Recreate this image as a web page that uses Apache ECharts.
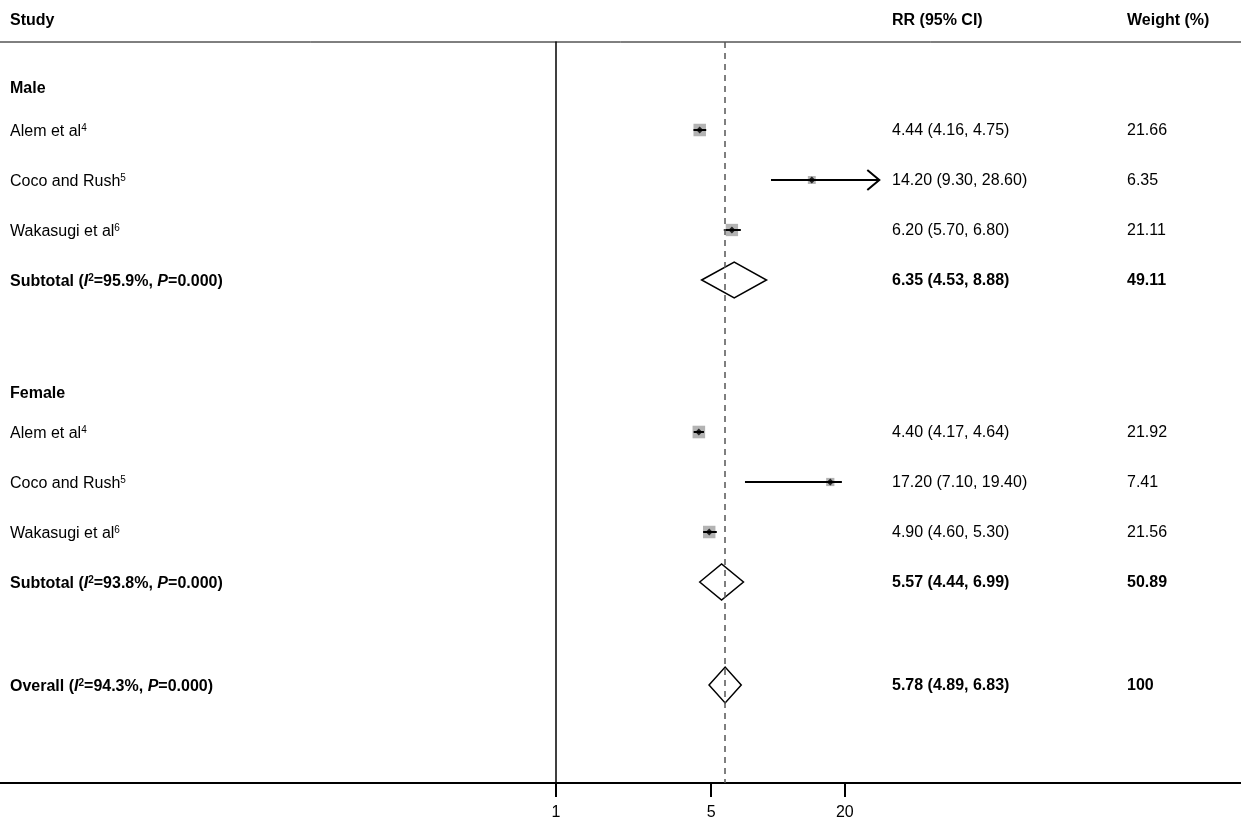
<!DOCTYPE html>
<html><head><meta charset="utf-8">
<script src="https://cdn.jsdelivr.net/npm/echarts@6/dist/echarts.min.js"></script>
<style>html,body{margin:0;background:#fff}#c{width:1241px;height:825px}</style>
</head><body><div id="c"></div>
<script>
// rows (row position in table units, top = 0)
const studies = ['Alem et al{s|4}', 'Coco and Rush{s|5}', 'Wakasugi et al{s|6}', 'Alem et al{s|4}', 'Coco and Rush{s|5}', 'Wakasugi et al{s|6}'];
const studyRows = [1.76, 2.76, 3.76, 7.8, 8.8, 9.8];
const rr = [4.44, 14.20, 6.20, 4.40, 17.20, 4.90];
const lo = [4.16, 9.30, 5.70, 4.17, 7.10, 4.60];
const hi = [4.75, 28.60, 6.80, 4.64, 19.40, 5.30];
const weights = [21.66, 6.35, 21.11, 21.92, 7.41, 21.56];
const ciText = ['4.44 (4.16, 4.75)', '14.20 (9.30, 28.60)', '6.20 (5.70, 6.80)', '4.40 (4.17, 4.64)', '17.20 (7.10, 19.40)', '4.90 (4.60, 5.30)'];
const arrowStudies = [false, true, false, false, false, false];

const pooledLabels = ['Subtotal (', 'Subtotal (', 'Overall ('];
const pooledI2 = ['95.9%', '93.8%', '94.3%'];
const pooledRows = [4.76, 10.8, 12.86];
const pooledRR = [6.35, 5.57, 5.78];
const pooledLo = [4.53, 4.44, 4.89];
const pooledHi = [8.88, 6.99, 6.83];
const pooledW = ['49.11', '50.89', '100'];

const groups = ['Male', 'Female'];
const groupRows = [0.92, 7.02];
const xTicks = [1, 5, 20];

const tableTop = 42, rowH = 50, axisY = 783;
const yPix = r => tableTop + r * rowH;
const font = '"Liberation Sans", Arial, sans-serif';
const rich = {
  s: {fontSize: 10, verticalAlign: 'top', padding: [0, 0, 7, 0], fontFamily: font, fill: '#000'},
  b: {fontWeight: 'bold', fontSize: 16, fontFamily: font},
  bi: {fontWeight: 'bold', fontStyle: 'italic', fontSize: 16, fontFamily: font},
  bs: {fontWeight: 'bold', fontSize: 10, verticalAlign: 'top', padding: [0, 0, 7, 0], fontFamily: font}
};
function txt(x, y, t, bold) {
  return {type: 'text', left: x, top: y - 7, style: {text: t, rich, font: (bold ? 'bold ' : '') + '16px ' + font, fill: '#000'}};
}
const g = [];
g.push(txt(10, 20, 'Study', true), txt(892, 20, 'RR (95% CI)', true), txt(1127, 20, 'Weight (%)', true));
g.push({type: 'line', shape: {x1: 0, y1: 42, x2: 1241, y2: 42}, style: {stroke: '#000', lineWidth: 1}});
g.push({type: 'line', shape: {x1: 0, y1: axisY, x2: 1241, y2: axisY}, style: {stroke: '#000', lineWidth: 2}});
groups.forEach((n, i) => g.push(txt(10, yPix(groupRows[i]), n, true)));
studies.forEach((n, i) => {
  g.push(txt(10, yPix(studyRows[i]), n, false));
  g.push(txt(892, yPix(studyRows[i]), ciText[i], false));
  g.push(txt(1127, yPix(studyRows[i]), weights[i].toFixed(2), false));
});
pooledRows.forEach((r, i) => {
  g.push(txt(10, yPix(r), '{b|' + pooledLabels[i] + '}{bi|I}{bs|2}{b|=' + pooledI2[i] + ', }{bi|P}{b|=0.000)}', true));
  g.push(txt(892, yPix(r), pooledRR[i].toFixed(2) + ' (' + pooledLo[i].toFixed(2) + ', ' + pooledHi[i].toFixed(2) + ')', true));
  g.push(txt(1127, yPix(r), pooledW[i], true));
});

const chart = echarts.init(document.getElementById('c'));
chart.setOption({
  animation: false,
  grid: {left: 556, right: 0, top: 42, height: axisY - 42, outerBoundsMode: 'none', containLabel: false},
  xAxis: {type: 'log', min: 1, max: 1218, logBase: 10, position: 'bottom',
    axisLine: {show: false, onZero: false}, splitLine: {show: false},
    axisTick: {customValues: xTicks, length: 14, lineStyle: {color: '#000', width: 2}},
    axisLabel: {customValues: xTicks, color: '#000', fontSize: 16, fontFamily: font, margin: 22}},
  yAxis: {type: 'value', min: 0, max: (axisY - 42) / rowH, inverse: true, show: true,
    axisLine: {show: true, onZero: false, lineStyle: {color: '#000', width: 1.5}},
    axisTick: {show: false}, axisLabel: {show: false}, splitLine: {show: false}},
  graphic: g,
  series: [
    {type: 'custom', data: rr.map((v, i) => [lo[i], hi[i], studyRows[i], arrowStudies[i] ? 1 : 0]),
      renderItem: (p, api) => {
        const a = api.coord([api.value(0), api.value(2)]);
        const b = api.coord([api.value(1), api.value(2)]);
        const ch = [{type: 'line', shape: {x1: a[0], y1: a[1], x2: b[0], y2: b[1]}, style: {stroke: '#000', lineWidth: 2}}];
        if (api.value(3)) ch.push({type: 'polyline', shape: {points: [[b[0] - 12, b[1] - 10], [b[0], b[1]], [b[0] - 12, b[1] + 10]]}, style: {stroke: '#000', fill: null, lineWidth: 2}});
        return {type: 'group', children: ch};
      }, z: 3},
    {type: 'scatter', symbol: 'rect', data: rr.map((v, i) => ({value: [v, studyRows[i]], symbolSize: 6 + weights[i] * 0.3})),
      itemStyle: {color: '#b3b3b3', opacity: 1}, z: 2},
    {type: 'scatter', symbol: 'diamond', symbolSize: 7, data: rr.map((v, i) => [v, studyRows[i]]), itemStyle: {color: '#000'}, z: 4},
    {type: 'custom', data: pooledRR.map((v, i) => [pooledLo[i], v, pooledHi[i], pooledRows[i]]),
      renderItem: (p, api) => {
        const y = api.value(3);
        const l = api.coord([api.value(0), y]), c = api.coord([api.value(1), y]), r = api.coord([api.value(2), y]);
        return {type: 'polygon', shape: {points: [[l[0], l[1]], [c[0], c[1] - 18], [r[0], r[1]], [c[0], c[1] + 18]]},
          style: {fill: '#fff', stroke: '#000', lineWidth: 1.5}};
      }, z: 3,
      markLine: {silent: true, symbol: 'none', label: {show: false},
        lineStyle: {color: '#555', type: [6, 5], width: 1.5}, data: [{xAxis: pooledRR[2]}]}}
  ]
});
</script></body></html>
